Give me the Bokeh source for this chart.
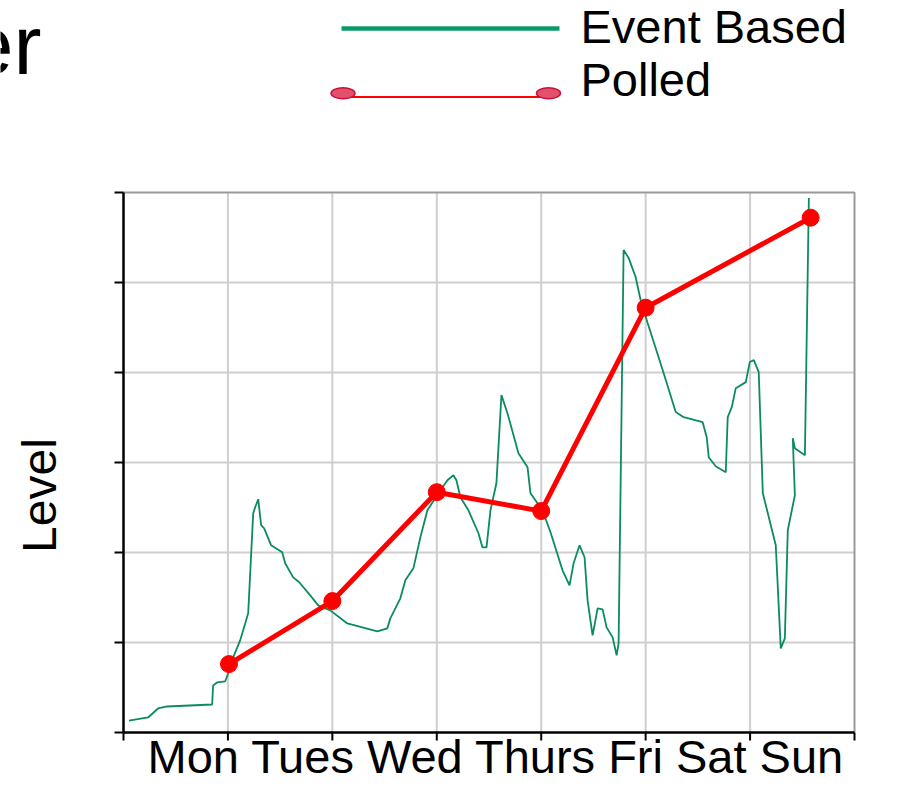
from math import pi
from bokeh.plotting import figure
from bokeh.models import Range1d
from bokeh.core.properties import value
from bokeh.embed import file_html
from bokeh.resources import INLINE

# ---------------- data ----------------
days = ["Mon", "Tues", "Wed", "Thurs", "Fri", "Sat", "Sun"]
legend_labels = ["Event Based", "Polled"]
y_label = "Level"
title_fragment = "er"

polled_x = [1.01, 2.0, 3.0, 4.0, 5.0, 6.58]
polled_y = [0.76, 1.46, 2.67, 2.46, 4.72, 5.72]

event_x = [0.053, 0.235, 0.331, 0.417, 0.849, 0.858, 0.896, 0.973, 1.002, 1.050,
           1.117, 1.194, 1.242, 1.261, 1.290, 1.318, 1.347, 1.414, 1.520, 1.548,
           1.625, 1.683, 1.788, 1.865, 1.980, 2.143, 2.431, 2.526, 2.555, 2.651,
           2.699, 2.776, 2.843, 2.910, 3.015, 3.102, 3.159, 3.188, 3.226, 3.303,
           3.399, 3.437, 3.476, 3.514, 3.571, 3.619, 3.677, 3.782, 3.869, 3.897,
           4.012, 4.089, 4.204, 4.271, 4.310, 4.367, 4.415, 4.444, 4.492, 4.540,
           4.588, 4.626, 4.684, 4.722, 4.741, 4.789, 4.837, 4.904, 4.952, 5.019,
           5.163, 5.288, 5.364, 5.546, 5.585, 5.604, 5.671, 5.767, 5.786, 5.825,
           5.863, 5.959, 5.997, 6.036, 6.083, 6.122, 6.170, 6.246, 6.294, 6.333,
           6.361, 6.429, 6.409, 6.429, 6.525, 6.563]
event_y = [0.133, 0.167, 0.267, 0.289, 0.311, 0.523, 0.556, 0.567, 0.656, 0.834,
           1.023, 1.324, 2.436, 2.503, 2.592, 2.303, 2.269, 2.080, 2.002, 1.880,
           1.724, 1.669, 1.524, 1.413, 1.357, 1.212, 1.123, 1.157, 1.268, 1.491,
           1.691, 1.824, 2.169, 2.469, 2.659, 2.803, 2.859, 2.803, 2.614, 2.469,
           2.214, 2.058, 2.058, 2.469, 2.770, 3.749, 3.548, 3.103, 2.948, 2.659,
           2.469, 2.225, 1.802, 1.635, 1.880, 2.080, 1.947, 1.468, 1.079, 1.379,
           1.368, 1.168, 1.057, 0.857, 0.990, 5.362, 5.273, 5.061, 4.805, 4.550,
           4.027, 3.560, 3.504, 3.448, 3.281, 3.059, 2.959, 2.892, 3.504, 3.615,
           3.826, 3.893, 4.116, 4.138, 4.004, 2.659, 2.436, 2.080, 0.934, 1.046,
           2.247, 2.636, 3.270, 3.159, 3.081, 5.940]

x_ticks = [0, 1, 2, 3, 4, 5, 6, 7]
y_ticks = [0, 1, 2, 3, 4, 5, 6]

# ---------------- layout constants (canvas pixels) ----------------
W, H = 885, 784
FL, FR, FT, FB = 123, 854, 192, 732      # chart area edges
GREEN = "#0b8c5c"
RED = "#ff0000"
FONT = value("Liberation Sans")
SHIFT = 0.37   # baseline compensation (fraction of font size)

XMIN, XMAX = x_ticks[0], x_ticks[-1]
YMIN, YMAX = y_ticks[0], y_ticks[-1]
sx = (FR - FL) / (XMAX - XMIN)
sy = (FB - FT) / (YMAX - YMIN)

p = figure(width=W, height=H,
           x_range=Range1d(XMIN - FL / sx, XMIN + (W - FL) / sx),
           y_range=Range1d(YMIN - (H - FB) / sy, YMIN + FB / sy),
           output_backend="svg", toolbar_location=None, min_border=0,
           x_axis_location=None, y_axis_location=None, title=None)
p.xgrid.visible = False
p.ygrid.visible = False
p.outline_line_color = None
p.background_fill_color = "white"

# pixel coordinate systems for decorations
p.extra_x_ranges = {"px": Range1d(0, W)}
p.extra_y_ranges = {"px": Range1d(H, 0), "pxup": Range1d(0, H)}

# ---- grid ----
gx = x_ticks[1:-1]
p.segment(x0=gx, y0=[YMIN] * len(gx), x1=gx, y1=[YMAX] * len(gx),
          line_color="#cfcfcf", line_width=2)
gy = y_ticks[1:-1]
p.segment(x0=[XMIN] * len(gy), y0=gy, x1=[XMAX] * len(gy), y1=gy,
          line_color="#cfcfcf", line_width=2)
# frame border (top / right)
p.line([XMIN, XMAX, XMAX], [YMAX, YMAX, YMIN], line_color="#9a9a9a", line_width=2)

# ---- axes ----
p.line([XMIN, XMIN], [YMIN, YMAX], line_color="black", line_width=2.5)
p.line([XMIN, XMAX], [YMIN, YMIN], line_color="black", line_width=2.5)
p.segment(x0=[XMIN] * len(y_ticks), y0=y_ticks, x1=[XMIN - 9 / sx] * len(y_ticks), y1=y_ticks,
          line_color="black", line_width=2)
p.segment(x0=x_ticks, y0=[YMIN] * len(x_ticks), x1=x_ticks, y1=[YMIN - 8 / sy] * len(x_ticks),
          line_color="black", line_width=2)

# ---- series ----
p.line(event_x, event_y, line_color=GREEN, line_width=1.8)
p.line(polled_x, polled_y, line_color=RED, line_width=5)
p.scatter(polled_x, polled_y, marker="circle", size=17, fill_color=RED, line_color=RED)

# ---- texts ----
p.text(x=[147], y=[773 - SHIFT * 47], text=[" ".join(days)], x_range_name="px", y_range_name="px",
       text_font=FONT, text_font_size="47px", text_align="left",
       text_baseline="alphabetic", text_color="black")
p.text(x=[57 - SHIFT * 48], y=[H - 495], text=[y_label], angle=pi / 2,
       x_range_name="px", y_range_name="pxup",
       text_font=FONT, text_font_size="48px", text_align="center",
       text_baseline="alphabetic", text_color="black")
p.text(x=[41], y=[76 - SHIFT * 84], text=[title_fragment], x_range_name="px", y_range_name="px",
       text_font=FONT, text_font_size="84px", text_align="right",
       text_baseline="alphabetic", text_color="black")

# ---- legend ----
p.line([341, 559], [28, 28], x_range_name="px", y_range_name="px",
       line_color="#0a9a6a", line_width=4.5)
p.line([342, 548], [96.5, 96.5], x_range_name="px", y_range_name="px",
       line_color=RED, line_width=2)
p.ellipse(x=[342.5, 548], y=[92.7, 92.7], width=24, height=11,
          x_range_name="px", y_range_name="px",
          fill_color="#e4506a", line_color="#c8103c", line_width=1.5)
p.text(x=[580, 580], y=[43 - SHIFT * 47, 96 - SHIFT * 47], text=legend_labels,
       x_range_name="px", y_range_name="px",
       text_font=FONT, text_font_size="47px", text_align="left",
       text_baseline="alphabetic", text_color="black")

open("out.html", "w").write(file_html(p, INLINE))
